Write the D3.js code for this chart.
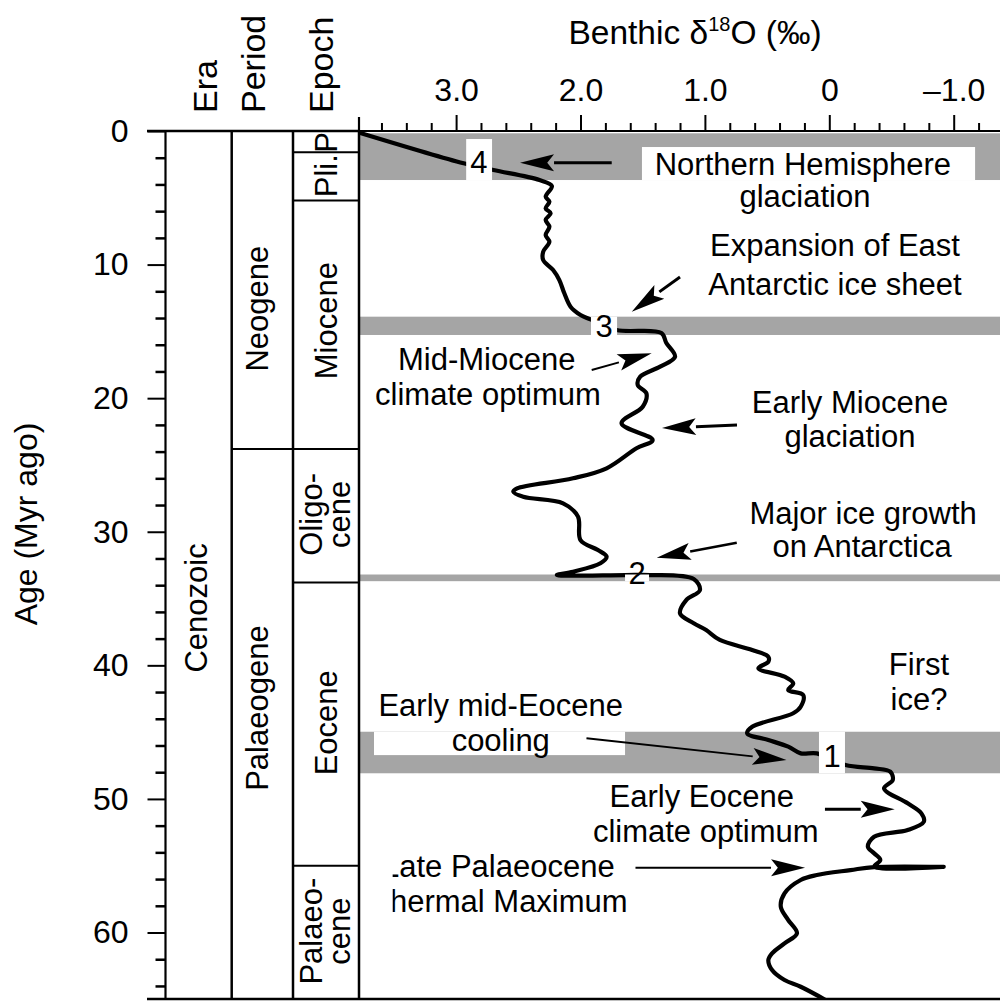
<!DOCTYPE html>
<html><head><meta charset="utf-8">
<script src="https://cdn.jsdelivr.net/npm/d3@7"></script>
<style>
body{margin:0;background:#fff}
svg{display:block}
text{font-family:"Liberation Sans",Arial,Helvetica,sans-serif;fill:#000}
</style></head>
<body><svg id="chart" width="1000" height="1001"></svg>
<script>
// ---------------- data ----------------
const curveAge = [0.15,2.42,2.92,3.67,4.12,4.92,5.29,5.79,6.16,6.66,
 7.16,7.79,8.29,9.04,9.66,10.41,11.16,12.15,13.15,13.77,
 14.1,14.9,15.12,15.87,16.9,17.64,18.39,19.01,19.64,20.64,
 21.88,23.13,23.75,25.25,26.0,26.75,27.0,27.38,27.87,28.87,
 30.62,31.37,31.87,32.36,32.99,33.24,33.24,33.24,33.54,34.37,
 35.12,36.11,36.85,37.36,38.1,38.85,39.36,39.73,40.22,40.85,
 41.35,41.85,42.22,43.1,43.59,44.6,45.09,45.59,46.09,46.59,
 46.59,47.46,47.71,47.96,48.58,49.21,50.33,51.08,51.71,52.33,
 52.83,53.58,54.07,54.57,55.08,55.08,55.1,55.33,55.7,56.07,
 57.07,58.07,59.07,60.06,60.81,61.56,62.06,62.81,63.56,64.06,65.05];
const curveD18O = [3.77,2.94,2.70,2.33,2.23,2.28,2.25,2.28,2.24,2.28,
 2.25,2.28,2.25,2.30,2.30,2.22,2.17,2.13,2.08,2.00,
 1.92,1.71,1.35,1.31,1.24,1.36,1.52,1.54,1.47,1.50,
 1.67,1.42,1.55,1.79,2.06,2.51,2.54,2.46,2.14,2.02,
 2.00,1.86,1.79,1.84,2.06,2.19,1.64,1.44,1.09,1.04,
 1.15,1.20,1.09,0.99,0.88,0.62,0.49,0.49,0.57,0.36,
 0.29,0.33,0.21,0.23,0.29,0.62,0.66,0.49,0.33,0.23,
 0.10,-0.13,-0.36,-0.49,-0.51,-0.44,-0.63,-0.74,-0.76,-0.63,
 -0.36,-0.31,-0.36,-0.41,-0.36,-0.92,-0.36,-0.17,0.10,0.23,
 0.36,0.39,0.33,0.26,0.36,0.46,0.49,0.46,0.36,0.23,0.03];

const ageMajorTicks = [0,10,20,30,40,50,60];
const ageMinorTicks = [2,4,6,8,12,14,16,18,22,24,26,28,32,34,36,38,42,44,46,48,52,54,56,58,62,64];
const d18OMajorTicks = [3,2,1,0,-1];
const d18OTickLabels = ["3.0","2.0","1.0","0","\u20131.0"];
const d18OMinorTicks = [3.6,3.4,3.2,2.8,2.6,2.4,2.2,1.8,1.6,1.4,1.2,0.8,0.6,0.4,0.2,-0.2,-0.4,-0.6,-0.8,-1.2];

const eraNames = ["Cenozoic"];
const eraStart = [0], eraEnd = [65], eraLabelAge = [35.7];
const periodNames = ["Neogene","Palaeogene"];
const periodStart = [0,23.8], periodEnd = [23.8,65], periodLabelAge = [13.3,43.2];
const epochNames = [["P"],["Pli."],["Miocene"],["Oligo-","cene"],["Eocene"],["Palaeo-","cene"]];
const epochStart = [0,1.6,5.2,23.8,33.8,55.0];
const epochEnd = [1.6,5.2,23.8,33.8,55.0,65];
const epochLabelAge = [0.85,3.35,14.2,28.7,44.3,59.9];

// grey event bands (age ranges) and their numbers
const bandStart = [0.17,13.9,33.2,44.97];
const bandEnd = [3.67,15.27,33.7,48.08];
const bandNumber = ["4","3","2","1"];
const bandNumberD18O = [2.816,1.811,1.545,-0.022];
const bandNumberAge = [2.39,14.6,33.16,46.86];
// white label masks (d18O range, age range)
const maskV0 = [2.919,1.506,1.916,1.642,3.660,0.083];
const maskV1 = [2.711,-1.172,1.706,1.449,1.642,-0.126];
const maskA0 = [0.6,1.2,13.9,33.2,44.97,44.97];
const maskA1 = [3.67,3.67,15.27,33.7,46.72,48.08];

// annotation text lines (centre d18O, baseline age)
const noteText = ["Northern Hemisphere","glaciation","Expansion of East","Antarctic ice sheet",
 "Mid-Miocene","climate optimum","Early Miocene","glaciation","Major ice growth","on Antarctica",
 "First","ice?","Early mid-Eocene","cooling","Early Eocene","climate optimum"];
const noteD18O = [0.212,0.196,-0.046,-0.046,2.754,2.744,-0.166,-0.166,-0.272,-0.263,
 -0.721,-0.721,2.641,2.641,1.025,0.993];
const noteAge = [3.29,5.69,9.36,12.28,17.89,20.51,21.11,23.66,29.42,31.89,
 40.76,43.38,43.76,46.38,50.61,53.23];
// clipped PETM label (start d18O, baseline age)
const petmText = ["Late Palaeocene","Thermal Maximum"];
const petmD18O = [3.596,3.684];
const petmAge = [55.85,58.43];
const petmClipD18O = 3.510;

// arrows: from (d18O, age) to tip (d18O, age), line weight
const arrowV0 = [1.749,1.200,1.910,0.742,0.744,1.952,0.035,1.558];
const arrowA0 = [2.37,10.93,17.89,22.01,30.82,45.46,50.78,55.15];
const arrowV1 = [2.486,1.588,1.428,1.345,1.387,0.344,-0.526,0.195];
const arrowA1 = [2.37,13.53,16.64,22.23,31.94,47.09,50.78,55.15];
const arrowW = [3,3,2,3,2.5,2,3,2];

// ---------------- layout ----------------
const svg = d3.select("#chart");
const plotL = 359, plotR = 1000, plotT = 131, plotB = 999;
const colX = [165.5,231.7,293,359];
const y = d3.scaleLinear().domain([0,65]).range([131,999.3]);
const x = d3.scaleLinear().domain([3,0]).range([456.1,829.3]);
const FS = 31;

svg.append("defs").append("clipPath").attr("id","plotclip")
  .append("rect").attr("x",plotL).attr("y",plotT).attr("width",plotR-plotL).attr("height",plotB-plotT);
svg.select("defs").append("clipPath").attr("id","petmclip")
  .append("rect").attr("x",x(petmClipD18O)).attr("y",plotT).attr("width",plotR-x(petmClipD18O)).attr("height",plotB-plotT);

// grey bands
const plot = svg.append("g").attr("clip-path","url(#plotclip)");
plot.selectAll("rect.band").data(bandStart).join("rect").attr("class","band")
  .attr("x",plotL).attr("width",plotR-plotL+5)
  .attr("y",(d)=>y(d)).attr("height",(d,i)=>y(bandEnd[i])-y(d))
  .attr("fill","#a5a5a5");

// curve
const pts = curveAge.map((a,i)=>[x(curveD18O[i]),y(a)]);
plot.append("path").attr("d",d3.line().curve(d3.curveCatmullRom.alpha(0.5))(pts))
  .attr("fill","none").attr("stroke","#000").attr("stroke-width",4.2)
  .attr("stroke-linejoin","round").attr("stroke-linecap","round");

// white masks
plot.selectAll("rect.mask").data(maskV0).join("rect").attr("class","mask")
  .attr("x",(d,i)=>x(d)).attr("width",(d,i)=>x(maskV1[i])-x(d))
  .attr("y",(d,i)=>y(maskA0[i])).attr("height",(d,i)=>y(maskA1[i])-y(maskA0[i]))
  .attr("fill","#fff");

// band numbers
plot.selectAll("text.num").data(bandNumber).join("text").attr("class","num")
  .attr("x",(d,i)=>x(bandNumberD18O[i])).attr("y",(d,i)=>y(bandNumberAge[i]))
  .attr("text-anchor","middle").attr("dominant-baseline","central")
  .attr("font-size",31).text(d=>d);

// annotation text
plot.selectAll("text.note").data(noteText).join("text").attr("class","note")
  .attr("x",(d,i)=>x(noteD18O[i])).attr("y",(d,i)=>y(noteAge[i]))
  .attr("text-anchor","middle").attr("font-size",FS).text(d=>d);
const petmG = svg.append("g").attr("clip-path","url(#petmclip)");
petmG.selectAll("text").data(petmText).join("text")
  .attr("x",(d,i)=>x(petmD18O[i])).attr("y",(d,i)=>y(petmAge[i]))
  .attr("text-anchor","start").attr("font-size",FS).text(d=>d);

// arrows
arrowV0.forEach((v,i)=>{
  const x0=x(v), y0=y(arrowA0[i]), x1=x(arrowV1[i]), y1=y(arrowA1[i]);
  const ang=Math.atan2(y1-y0,x1-x0), L=34, H=8.5;
  const bx=x1-L*Math.cos(ang), by=y1-L*Math.sin(ang);
  svg.append("line").attr("x1",x0).attr("y1",y0).attr("x2",bx).attr("y2",by)
    .attr("stroke","#000").attr("stroke-width",arrowW[i]);
  const px=-Math.sin(ang)*H, py=Math.cos(ang)*H;
  svg.append("path").attr("d",`M${x1},${y1}L${bx+px},${by+py}L${bx+L*0.2*Math.cos(ang)},${by+L*0.2*Math.sin(ang)}L${bx-px},${by-py}Z`)
    .attr("fill","#000");
});

// ---------------- axes and frames ----------------
const line = (x1,y1,x2,y2,w)=>svg.append("line").attr("x1",x1).attr("y1",y1).attr("x2",x2).attr("y2",y2)
  .attr("stroke","#000").attr("stroke-width",w);

// top axis
line(plotL,plotT,plotR,plotT,2.2);
const xAxisMajor = d3.axisTop(x).tickValues(d18OMajorTicks).tickSize(16).tickPadding(14)
  .tickFormat((d,i)=>d18OTickLabels[i]);
const gx = svg.append("g").attr("transform",`translate(0,${plotT})`).call(xAxisMajor);
gx.select(".domain").remove();
gx.selectAll("line").attr("stroke-width",2);
gx.selectAll("text").attr("font-size",32).attr("font-family","Liberation Sans, Arial, sans-serif").attr("fill","#000");
const gxm = svg.append("g").attr("transform",`translate(0,${plotT})`)
  .call(d3.axisTop(x).tickValues(d18OMinorTicks).tickSize(8).tickFormat(""));
gxm.select(".domain").remove();
gxm.selectAll("line").attr("stroke-width",2);

svg.append("text").attr("x",695).attr("y",44).attr("text-anchor","middle").attr("font-size",33.5)
  .call(t=>{t.append("tspan").text("Benthic \u03b4");
    t.append("tspan").attr("dy",-13).attr("font-size",20).text("18");
    t.append("tspan").attr("dy",13).text("O (\u2030)");});

// left axis
line(colX[0],plotT,colX[0],plotB,2.2);
const gy = svg.append("g").attr("transform",`translate(${colX[0]},0)`)
  .call(d3.axisLeft(y).tickValues(ageMajorTicks).tickSize(18).tickPadding(19));
gy.select(".domain").remove();
gy.selectAll("line").attr("stroke-width",2);
gy.selectAll("text").attr("font-size",32).attr("font-family","Liberation Sans, Arial, sans-serif").attr("fill","#000");
const gym = svg.append("g").attr("transform",`translate(${colX[0]},0)`)
  .call(d3.axisLeft(y).tickValues(ageMinorTicks).tickSize(10).tickFormat(""));
gym.select(".domain").remove();
gym.selectAll("line").attr("stroke-width",2.5);

svg.append("text").attr("transform",`translate(37,524) rotate(-90)`).attr("text-anchor","middle")
  .attr("font-size",32).text("Age (Myr ago)");

// column frames
line(147,plotT,plotL,plotT,2.5);
line(147,plotB,plotR,plotB,2.5);
colX.forEach((cx,i)=>{ if(i>0) line(cx,plotT,cx,plotB,2.5); });
line(plotL,117,plotL,plotT,2.2);

// period & epoch boundaries
periodEnd.slice(0,-1).forEach(a=>line(colX[1],y(a),colX[2],y(a),2));
epochEnd.slice(0,-1).forEach(a=>line(colX[2],y(a),colX[3],y(a),2));

// headers
const headers = ["Era","Period","Epoch"], headerBase=[217,265,333];
headers.forEach((h,i)=>svg.append("text").attr("transform",`translate(${headerBase[i]},113) rotate(-90)`)
  .attr("font-size",34).text(h));

// unit labels
eraNames.forEach((n,i)=>svg.append("text").attr("transform",`translate(207,${y(eraLabelAge[i])}) rotate(-90)`)
  .attr("text-anchor","middle").attr("font-size",31).text(n));
periodNames.forEach((n,i)=>svg.append("text").attr("transform",`translate(268,${y(periodLabelAge[i])}) rotate(-90)`)
  .attr("text-anchor","middle").attr("font-size",31).text(n));
epochNames.forEach((lines,i)=>{
  const base = lines.length===1 ? [337] : [322,350];
  lines.forEach((l,j)=>svg.append("text").attr("transform",`translate(${base[j]},${y(epochLabelAge[i])}) rotate(-90)`)
    .attr("text-anchor","middle").attr("font-size",31).text(l));
});
</script></body></html>
